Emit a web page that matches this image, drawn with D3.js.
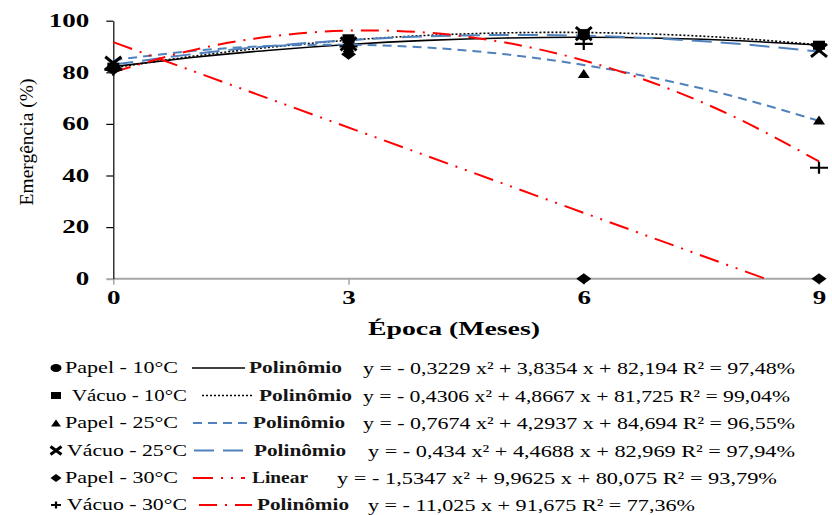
<!DOCTYPE html>
<html>
<head>
<meta charset="utf-8">
<script src="https://cdn.jsdelivr.net/npm/d3@7"></script>
<style>
  body { margin: 0; background: #fff; }
  svg { display: block; }
</style>
</head>
<body>
<script>
// observed months and emergence (%) per treatment
const months = [0, 3, 6, 9];
const papel10 = [81.5, 90, 94, 90];
const vacuo10 = [82, 93, 95, 90.5];
const papel25 = [83, 89.5, 79.5, 61.5];
const vacuo25 = [83.5, 91, 95, 88.5];
const papel30 = [81, 87, 0, 0];
const vacuo30 = [81, 90, 91, 43];

// fitted curves (month -> %)
const fitMonths = [0, 1, 2, 3, 4, 5, 6, 7, 8, 9];
const fitPapel10 = [82.19, 85.71, 88.57, 90.79, 92.37, 93.30, 93.58, 93.22, 92.21, 90.56];
const fitVacuo10 = [81.73, 86.16, 89.74, 92.45, 94.30, 95.29, 95.42, 94.69, 93.10, 90.65];
const fitPapel25 = [84.69, 88.22, 90.21, 90.67, 89.59, 86.98, 82.83, 77.15, 69.93, 61.18];
const fitVacuo25 = [82.97, 87.00, 90.17, 92.47, 93.90, 94.46, 94.16, 92.99, 90.94, 88.03];
const fitVacuo30 = [80.08, 88.50, 93.86, 96.15, 95.37, 91.52, 84.60, 74.61, 61.55, 45.43];
const fitPapel30Months = [0, 8.315];
const fitPapel30 = [91.68, 0];

const seriesNames = ["Papel - 10°C", "Vácuo - 10°C", "Papel - 25°C", "Vácuo - 25°C", "Papel - 30°C", "Vácuo - 30°C"];
const trendNames = ["Polinômio", "Polinômio", "Polinômio", "Polinômio", "Linear", "Polinômio"];
const equations = [
  "y = - 0,3229 x² + 3,8354 x + 82,194 R² = 97,48%",
  "y = - 0,4306 x² + 4,8667 x + 81,725 R² = 99,04%",
  "y = - 0,7674 x² + 4,2937 x + 84,694 R² = 96,55%",
  "y = - 0,434 x² + 4,4688 x + 82,969 R² = 97,94%",
  "y = - 1,5347 x² + 9,9625 x + 80,075 R² = 93,79%",
  "y = - 11,025 x + 91,675 R² = 77,36%"
];
const yTicks = [0, 20, 40, 60, 80, 100];

const observed = [papel10, vacuo10, papel25, vacuo25, papel30, vacuo30];
const fits = [
  [fitMonths, fitPapel10], [fitMonths, fitVacuo10], [fitMonths, fitPapel25],
  [fitMonths, fitVacuo25], [fitPapel30Months, fitPapel30], [fitMonths, fitVacuo30]
];

// styles
const styles = [
  {marker: "circle",   color: "#000",    dash: null,                width: 1.6},
  {marker: "square",   color: "#000",    dash: "2 2",               width: 1.6},
  {marker: "triangle", color: "#4f81bd", dash: "9 6",               width: 2},
  {marker: "x",        color: "#4f81bd", dash: "20 9",              width: 2},
  {marker: "diamond",  color: "#ff0000", dash: "20 8 2 8 2 8",      width: 2},
  {marker: "plus",     color: "#ff0000", dash: "18 8 2 8",          width: 2}
];

const W = 832, H = 515;
const font = "'Liberation Serif','Times New Roman',serif";

const svg = d3.select("body").append("svg")
  .attr("width", W).attr("height", H)
  .style("font-family", font);

const x = d3.scaleLinear().domain([0, 9]).range([113.3, 819]);
const y = d3.scaleLinear().domain([0, 100]).range([278.7, 20.7]);

function stretch(sel, k) {
  sel.each(function() {
    const w = this.getComputedTextLength();
    this.setAttribute("textLength", w * k);
    this.setAttribute("lengthAdjust", "spacingAndGlyphs");
  });
}
function fitTo(sel, w) {
  sel.attr("textLength", w).attr("lengthAdjust", "spacingAndGlyphs");
}

// marker shapes, w x h box centred on 0,0
function markerPath(type, w, h) {
  const a = w / 2, b = h / 2;
  switch (type) {
    case "circle":   return `M${-a},0A${a},${b} 0 1,0 ${a},0A${a},${b} 0 1,0 ${-a},0Z`;
    case "square":   return `M${-a},${-b}H${a}V${b}H${-a}Z`;
    case "triangle": return `M0,${-b}L${a},${b}H${-a}Z`;
    case "diamond":  return `M0,${-b}L${a},0L0,${b}L${-a},0Z`;
    case "x":        return `M${-a},${-b}L${a},${b}M${-a},${b}L${a},${-b}`;
    case "plus":     return `M${-a},0H${a}M0,${-b}V${b}`;
  }
}
const markerSize = {
  circle: [12, 9], square: [12, 9], triangle: [12, 9],
  diamond: [15, 11], x: [16, 13], plus: [18, 12]
};
const legendMarkerSize = {
  circle: [11, 8], square: [10, 7], triangle: [10, 7],
  diamond: [11, 8], x: [11, 8], plus: [10, 7]
};
function drawMarker(g, type, w, h) {
  const open = type === "x" || type === "plus";
  g.append("path")
    .attr("d", markerPath(type, w, h))
    .attr("fill", open ? "none" : "#000")
    .attr("stroke", open ? "#000" : "none")
    .attr("stroke-width", type === "x" ? 3 : 2.2);
}

// x axis (grey)
const xAxis = svg.append("g")
  .attr("transform", `translate(0,${y(0)})`)
  .call(d3.axisBottom(x).tickValues(months).tickSize(6).tickPadding(7).tickSizeOuter(0));
xAxis.attr("font-family", font);
xAxis.select(".domain").attr("d", `M${x(0)},0H824`).attr("stroke", "#a6a6a6").attr("stroke-width", 2);
xAxis.selectAll(".tick line").attr("stroke", "#a6a6a6").attr("stroke-width", 1.5);
xAxis.selectAll("text").attr("font-size", 18).attr("font-weight", "bold").attr("fill", "#000");
stretch(xAxis.selectAll("text"), 1.5);

// y axis
const yAxis = svg.append("g")
  .attr("transform", `translate(${x(0)},0)`)
  .call(d3.axisLeft(y).tickValues(yTicks).tickSize(7).tickPadding(17).tickSizeOuter(0));
yAxis.attr("font-family", font);
yAxis.select(".domain").attr("stroke", "#000").attr("stroke-width", 1.2);
yAxis.selectAll(".tick line").attr("stroke", d => d === 0 ? "#a6a6a6" : "#000").attr("stroke-width", d => d === 0 ? 2 : 1.2);
yAxis.selectAll("text").attr("font-size", 18).attr("font-weight", "bold").attr("fill", "#000");
stretch(yAxis.selectAll("text"), 1.5);

// axis titles
svg.append("text")
  .attr("x", 454).attr("y", 335)
  .attr("text-anchor", "middle")
  .attr("font-size", 19).attr("font-weight", "bold")
  .text("Época (Meses)")
  .call(fitTo, 172);

svg.append("text")
  .attr("transform", "translate(33,142) rotate(-90)")
  .attr("text-anchor", "middle")
  .attr("font-size", 19.5)
  .text("Emergência (%)");

// trend lines
const line = d3.line().x(d => x(d[0])).y(d => y(d[1])).curve(d3.curveNatural);
svg.append("g").selectAll("path")
  .data(fits)
  .join("path")
  .attr("d", d => line(d[0].map((m, i) => [m, d[1][i]])))
  .attr("fill", "none")
  .attr("stroke", (d, i) => styles[i].color)
  .attr("stroke-width", (d, i) => styles[i].width)
  .attr("stroke-dasharray", (d, i) => styles[i].dash);

// observed points
observed.forEach((vals, i) => {
  const type = styles[i].marker;
  const [w, h] = markerSize[type];
  svg.append("g").selectAll("g")
    .data(vals)
    .join("g")
    .attr("transform", (v, j) => `translate(${x(months[j])},${y(v)})`)
    .each(function() { drawMarker(d3.select(this), type, w, h); });
});

// legend
const rowBase = [373, 400.5, 428, 455.5, 483, 510];
const labelStart = [65, 72, 65, 67, 65, 67], labelEnd = [178, 187, 178, 187, 178, 187];
const sampleStart = [192, 202, 193, 194, 193, 199], sampleEnd = [245, 252, 247, 248, 245, 252];
const trendStart = [249, 259, 253, 254, 252, 257], trendEnd = [342, 352, 345, 346, 308, 349];
const eqStart = [363, 363, 363, 368, 337, 368], eqEnd = [795, 790, 795, 795, 777, 695];

const legend = svg.append("g");
seriesNames.forEach((name, i) => {
  const cy = rowBase[i] - 5;
  const type = styles[i].marker;
  const [w, h] = legendMarkerSize[type];
  const m = legend.append("g").attr("transform", `translate(56,${cy})`);
  drawMarker(m, type, w, h);

  legend.append("text")
    .attr("x", labelStart[i]).attr("y", rowBase[i])
    .attr("font-size", 17.5)
    .text(name)
    .call(fitTo, labelEnd[i] - labelStart[i]);

  legend.append("line")
    .attr("x1", sampleStart[i]).attr("x2", sampleEnd[i])
    .attr("y1", cy).attr("y2", cy)
    .attr("stroke", styles[i].color)
    .attr("stroke-width", styles[i].width)
    .attr("stroke-dasharray", styles[i].dash);

  legend.append("text")
    .attr("x", trendStart[i]).attr("y", rowBase[i])
    .attr("font-size", 17.5).attr("font-weight", "bold")
    .attr("fill", "#141414")
    .text(trendNames[i])
    .call(fitTo, trendEnd[i] - trendStart[i]);

  legend.append("text")
    .attr("x", eqStart[i]).attr("y", rowBase[i] + 1)
    .attr("font-size", 17.5)
    .text(equations[i])
    .call(fitTo, eqEnd[i] - eqStart[i]);
});
</script>
</body>
</html>
